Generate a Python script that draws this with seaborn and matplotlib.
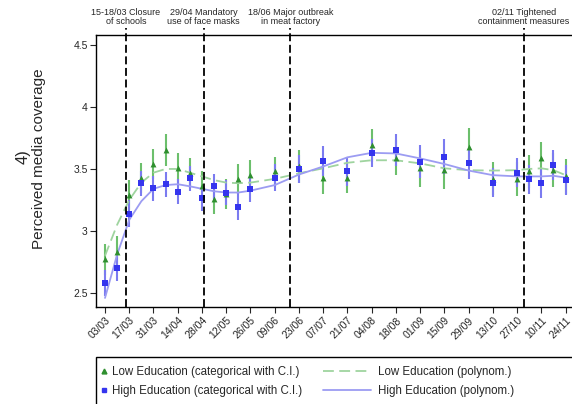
# Perceived media coverage by education level (panel 4)

import pandas as pd
import numpy as np
import matplotlib.pyplot as plt
import seaborn as sns
from matplotlib.lines import Line2D
from matplotlib.patches import Rectangle
import matplotlib.transforms as mtransforms

# ---- Data ----
survey_dates = ['2020-03-03', '2020-03-10', '2020-03-17', '2020-03-24', '2020-03-31',
                '2020-04-07', '2020-04-14', '2020-04-21', '2020-04-28', '2020-05-05',
                '2020-05-12', '2020-05-19', '2020-05-26', '2020-06-09', '2020-06-23',
                '2020-07-07', '2020-07-21', '2020-08-04', '2020-08-18', '2020-09-01',
                '2020-09-15', '2020-09-29', '2020-10-13', '2020-10-27', '2020-11-03',
                '2020-11-10', '2020-11-17', '2020-11-24']

low_mean = [2.77, 2.83, 3.29, 3.43, 3.54, 3.65, 3.505, 3.465, 3.36, 3.26,
            3.30, 3.42, 3.45, 3.48, 3.52, 3.43, 3.43, 3.69, 3.59, 3.505,
            3.49, 3.68, 3.42, 3.42, 3.48, 3.585, 3.49, 3.44]
low_ci = [0.125, 0.13, 0.12, 0.12, 0.12, 0.13, 0.12, 0.12, 0.12, 0.12,
          0.12, 0.12, 0.12, 0.12, 0.13, 0.13, 0.125, 0.13, 0.14, 0.15,
          0.148, 0.15, 0.134, 0.14, 0.13, 0.13, 0.135, 0.14]

high_mean = [2.58, 2.70, 3.14, 3.385, 3.344, 3.377, 3.315, 3.425, 3.264, 3.36,
             3.31, 3.196, 3.34, 3.43, 3.50, 3.565, 3.48, 3.63, 3.65, 3.56,
             3.60, 3.545, 3.39, 3.47, 3.417, 3.385, 3.53, 3.41]
high_ci = [0.105, 0.10, 0.11, 0.10, 0.10, 0.10, 0.10, 0.10, 0.10, 0.10,
           0.10, 0.11, 0.11, 0.11, 0.11, 0.12, 0.12, 0.114, 0.128, 0.13,
           0.14, 0.124, 0.114, 0.115, 0.115, 0.12, 0.12, 0.12]

low_poly = [2.80, 3.05, 3.25, 3.39, 3.47, 3.50, 3.50, 3.47, 3.44, 3.41,
            3.39, 3.385, 3.39, 3.42, 3.465, 3.505, 3.55, 3.57, 3.57, 3.545,
            3.505, 3.49, 3.487, 3.49, 3.50, 3.505, 3.49, 3.45]
high_poly = [2.46, 2.81, 3.09, 3.24, 3.34, 3.37, 3.377, 3.36, 3.34, 3.32,
             3.31, 3.31, 3.325, 3.37, 3.455, 3.52, 3.594, 3.63, 3.625, 3.585,
             3.54, 3.487, 3.45, 3.44, 3.44, 3.44, 3.445, 3.43]

tick_dates = ['2020-03-03', '2020-03-17', '2020-03-31', '2020-04-14', '2020-04-28',
              '2020-05-12', '2020-05-26', '2020-06-09', '2020-06-23', '2020-07-07',
              '2020-07-21', '2020-08-04', '2020-08-18', '2020-09-01', '2020-09-15',
              '2020-09-29', '2020-10-13', '2020-10-27', '2020-11-10', '2020-11-24']

event_dates = ['2020-03-15', '2020-04-29', '2020-06-18', '2020-10-31']
event_labels = ['15-18/03 Closure\nof schools', '29/04 Mandatory\nuse of face masks',
                '18/06 Major outbreak\nin meat factory', '02/11 Tightened\ncontainment measures']

y_ticks = [2.5, 3, 3.5, 4, 4.5]
y_tick_labels = ['2.5', '3', '3.5', '4', '4.5']

# ---- Colours ----
green_mark = '#2f8f2f'
green_bar = '#6cbf6c'
green_line = '#9fd49f'
blue_mark = '#3535ee'
blue_bar = '#7b7bf0'
blue_line = '#9c9cf2'

df = pd.DataFrame({
    'date': pd.to_datetime(survey_dates),
    'low': low_mean, 'low_ci': low_ci,
    'high': high_mean, 'high_ci': high_ci,
    'low_poly': low_poly, 'high_poly': high_poly,
})

sns.set_style('ticks')
plt.rcParams['font.family'] = ['Liberation Sans', 'DejaVu Sans']

fig = plt.figure(figsize=(5.72, 4.04), dpi=100)
ax = fig.add_axes([96 / 572, 97 / 404, 480 / 572, 272 / 404])

# ---- Confidence intervals ----
ax.vlines(df['date'], df['low'] - df['low_ci'], df['low'] + df['low_ci'],
          color=green_bar, lw=1.5, zorder=2)
ax.vlines(df['date'], df['high'] - df['high_ci'], df['high'] + df['high_ci'],
          color=blue_bar, lw=1.5, zorder=2)

# ---- Polynomial fits ----
sns.lineplot(data=df, x='date', y='low_poly', ax=ax, color=green_line, lw=1.3,
             linestyle=(0, (6, 3)), zorder=3)
sns.lineplot(data=df, x='date', y='high_poly', ax=ax, color=blue_line, lw=1.3, zorder=3)

# ---- Category means ----
sns.scatterplot(data=df, x='date', y='low', ax=ax, marker='^', s=18,
                color=green_mark, linewidth=0, zorder=4)
sns.scatterplot(data=df, x='date', y='high', ax=ax, marker='s', s=14,
                color=blue_mark, linewidth=0, zorder=5)

# ---- Event markers ----
trans = mtransforms.blended_transform_factory(ax.transData, ax.transAxes)
for d, lab in zip(pd.to_datetime(event_dates), event_labels):
    ax.axvline(d, ymin=0, ymax=1 + 7 / 272, color='black', lw=1.3,
               linestyle=(0, (4.4, 2)), clip_on=False, zorder=6)
    ax.text(d, 1 + 9 / 272, lab, transform=trans, ha='center', va='bottom',
            fontsize=6.5, linespacing=1.0)

# ---- Axes ----
start = pd.Timestamp(survey_dates[0])
ax.set_xlim(start - pd.Timedelta(days=5.2), start + pd.Timedelta(days=272))
ax.set_ylim(2.387, 4.58)
ax.set_xticks(pd.to_datetime(tick_dates))
ax.set_xticklabels([pd.Timestamp(t).strftime('%d/%m') for t in tick_dates],
                   rotation=45, ha='right', rotation_mode='anchor', fontsize=7.5)
ax.set_yticks(y_ticks)
ax.set_yticklabels(y_tick_labels, fontsize=7.5)
ax.tick_params(direction='out', length=4, width=0.8, pad=2)
ax.set_xlabel('')
ax.set_ylabel('')
for s in ax.spines.values():
    s.set_linewidth(1.0)
    s.set_color('black')

fig.text(23 / 572, 1 - 157 / 404, '4)', rotation=90, fontsize=12, ha='center', va='center')
fig.text(39 / 572, 1 - 159 / 404, 'Perceived media coverage', rotation=90,
         fontsize=11, ha='center', va='center')

# ---- Legend ----
h_low = Line2D([], [], marker='^', color=green_mark, linestyle='none', markersize=3.5)
h_high = Line2D([], [], marker='s', color=blue_mark, linestyle='none', markersize=3)
h_low_poly = Line2D([], [], color=green_line, lw=1.3, linestyle=(0, (6, 3)))
h_high_poly = Line2D([], [], color=blue_line, lw=1.3)

leg1 = fig.legend([h_low, h_high],
                  ['Low Education (categorical with C.I.)', 'High Education (categorical with C.I.)'],
                  loc='upper left', bbox_to_anchor=(99 / 572, 38 / 404), frameon=False,
                  fontsize=8.3, handlelength=0.8, handletextpad=0.3, borderpad=0,
                  borderaxespad=0, labelspacing=0.65)
leg2 = fig.legend([h_low_poly, h_high_poly],
                  ['Low Education (polynom.)', 'High Education (polynom.)'],
                  loc='upper left', bbox_to_anchor=(323 / 572, 38 / 404), frameon=False,
                  fontsize=8.3, handlelength=4.2, handletextpad=0.6, borderpad=0,
                  borderaxespad=0, labelspacing=0.65)

fig.patches.append(Rectangle((96 / 572, -0.05), 1.0, 47 / 404 + 0.05, fill=False,
                             edgecolor='black', lw=1.0, transform=fig.transFigure))

fig.savefig('out.png', dpi=100)
